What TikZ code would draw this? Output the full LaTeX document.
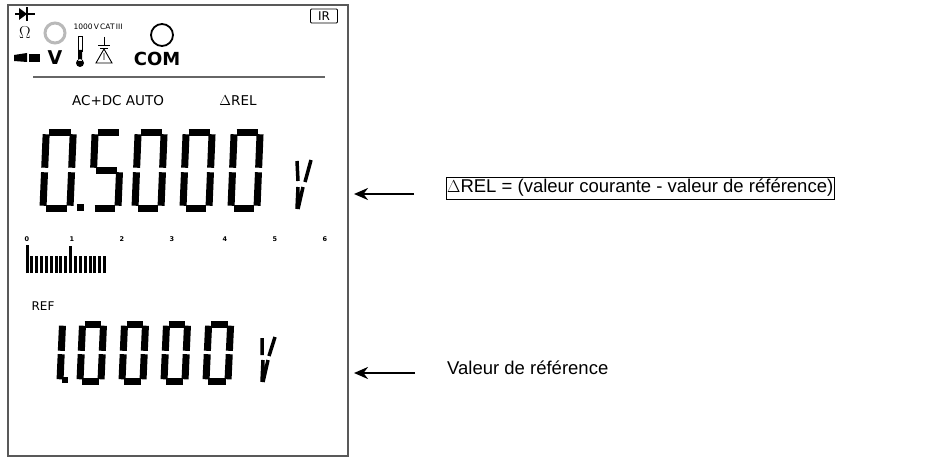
\documentclass[tikz,border=0pt]{standalone}
\usepackage{fontspec}
\setmainfont{Liberation Sans}
\newfontfamily\lcdfont{DejaVu Sans}
\usetikzlibrary{calc,positioning,arrows.meta}

% segments of an lcd digit, in a 1 x 2 box
\def\lcdsega{(0.1,2)--(0.9,2)}
\def\lcdsegb{(1,1.94)--(1,1.06)}
\def\lcdsegc{(1,0.94)--(1,0.06)}
\def\lcdsegd{(0.1,0)--(0.9,0)}
\def\lcdsege{(0,0.06)--(0,0.94)}
\def\lcdsegf{(0,1.06)--(0,1.94)}
\def\lcdsegg{(0.1,1)--(0.9,1)}
% x, y, width, height, segments
\newcommand\lcddigit[5]{%
  \begin{scope}[shift={(#1,#2)},xscale=#3,yscale=#4/2,xslant=0.06]
    \foreach \s in {#5}{\draw[lcdseg] \csname lcdseg\s\endcsname;}
  \end{scope}}

\begin{document}
\begin{tikzpicture}[x=1pt,y=1pt, every node/.style={inner sep=0pt},
    lcdseg/.style={line width=7pt,black},
    barline/.style={line width=3pt,black},
    lcdlabel/.style={font=\lcdfont\fontsize{13.5}{15}\selectfont},
    note/.style={font=\fontsize{18.5}{21}\selectfont},
    pointer/.style={-{Stealth[length=14pt,width=12pt]},line width=2.6pt}]
    \useasboundingbox (0,0) rectangle (939,459);
    % display frame
    \draw[gray!70!black,line width=1.6pt] (8,3) rectangle (348,454);
    \draw[gray!80!black,line width=1.4pt] (33,382) -- (325,382);

    % top icons
    \draw[line width=1.8pt] (15,445) -- (35,445);
    \fill (19,439) -- (19,451) -- (27,445) -- cycle;
    \draw[line width=1.8pt] (27,438) -- (27,452);
    \node[font=\fontsize{17}{18}\selectfont] (ohm) at (25,426) {$\Omega$};
    \draw[gray!55,line width=3pt] (55,426) circle (10);
    \node[font=\lcdfont\fontsize{7.5}{8}\selectfont] (cat) at (98,432) {1000\,V\,CAT\,III};
    \draw[line width=1.8pt] (162,424) circle (11);
    \fill (14,404) -- (27,406) -- (27,397) -- (14,398) -- cycle;
    \fill (29,397) rectangle (40,405);
    \node[font=\lcdfont\bfseries\fontsize{19}{20}\selectfont] (volt) at (55,401) {V};
    \draw (78,423) rectangle (82,408);
    \fill (80,396) circle (4) (78,398) rectangle (82,409);
    \draw (104,422) -- (104,414) (98,414) -- (110,414) (100,411) -- (108,411);
    \draw[line width=0.9pt] (96,396) -- (104,410) -- (112,396) -- cycle (104,406) -- (104,399);
    \node[font=\lcdfont\bfseries\fontsize{18}{20}\selectfont] (com) at (157,400) {COM};
    \node[draw,line width=0.9pt,rounded corners=1pt,minimum width=27pt,minimum height=14pt,
          font=\lcdfont\fontsize{12}{12}\selectfont] (ir) at (324,443) {IR};

    \node[lcdlabel] (acdc) at (118,358) {AC+DC AUTO};
    \node[lcdlabel] (rel) at (238,358) {$\Delta$REL};

    % main reading 0.5000
    \lcddigit{43}{251}{27}{76}{a,b,c,d,e,f}
    \fill (77,248) rectangle (84,255);
    \lcddigit{92}{251}{26}{76}{a,f,g,c,d}
    \lcddigit{135}{251}{26}{76}{a,b,c,d,e,f}
    \lcddigit{183}{251}{26}{76}{a,b,c,d,e,f}
    \lcddigit{231}{251}{26}{76}{a,b,c,d,e,f}
    \draw[lcdseg,line width=3.5pt] (297,298) -- (298,278) (311,299) -- (305,277)
          (298,272) -- (297,250) (303,272) -- (298,250);

    % bar graph
    \foreach \n/\xx in {0/27,1/72,2/122,3/172,4/225,5/275,6/325}
      \node[font=\lcdfont\bfseries\fontsize{6.5}{7}\selectfont] (tick\n) at (\xx,220) {\n};
    \foreach \i in {0,...,16}
      \draw[barline] (27+4.85*\i,186) -- (27+4.85*\i,203);
    \draw[barline] (27,202) -- (27,214) (70.6,202) -- (70.6,213);

    % reference reading 1.0000
    \node[font=\lcdfont\fontsize{12}{12}\selectfont] (ref) at (43,153) {REF};
    \lcddigit{39}{78}{21}{57}{b,c}
    \fill (62,76) rectangle (68,82);
    \lcddigit{80}{78}{21}{57}{a,b,c,d,e,f}
    \lcddigit{122}{78}{21}{57}{a,b,c,d,e,f}
    \lcddigit{164}{78}{21}{57}{a,b,c,d,e,f}
    \lcddigit{206}{78}{22}{57}{a,b,c,d,e,f}
    \draw[lcdseg,line width=3.5pt] (262,121) -- (262,104) (275,122) -- (269,103)
          (263,99) -- (262,77) (268,99) -- (263,77);

    % notes
    \node[note,draw,inner xsep=1pt,inner ysep=2pt,anchor=west] (relnote) at (446,271)
      {$\Delta$REL = (valeur courante - valeur de référence)};
    \node[note,anchor=west] (refnote) at (447,91) {Valeur de référence};
    \coordinate (relpt) at (354,265);
    \coordinate (refpt) at (354,86);
    \draw[pointer] ($(relnote.west)+(-32,-6)$) -- (relpt);
    \draw[pointer] ($(refnote.west)+(-32,-5)$) -- (refpt);
\end{tikzpicture}
\end{document}
